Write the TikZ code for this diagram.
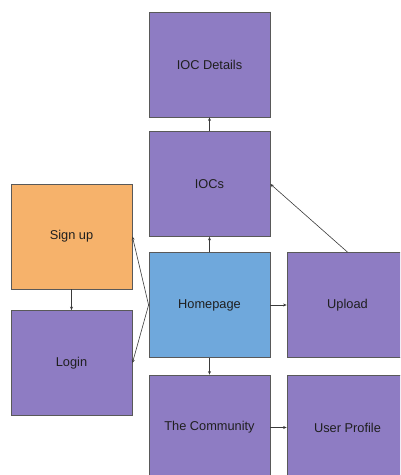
\documentclass[tikz,border=0pt]{standalone}
\usepackage{fontspec}
\setmainfont{Liberation Sans}
\usetikzlibrary{arrows.meta}
\definecolor{pagepurple}{HTML}{8E7CC3}
\definecolor{pageorange}{HTML}{F6B26B}
\definecolor{pageblue}{HTML}{6FA8DC}
\definecolor{boxline}{HTML}{595959}
\definecolor{linkline}{HTML}{3A3A3A}
\tikzset{
  page/.style={draw=boxline, line width=0.8pt, minimum width=121pt, minimum height=105pt,
    inner sep=0pt, font=\fontsize{12.8}{15}\selectfont, text=black!88},
  purplepage/.style={page, fill=pagepurple},
  orangepage/.style={page, fill=pageorange},
  bluepage/.style={page, fill=pageblue},
  link/.style={draw=linkline, line width=0.6pt, -{Stealth[length=3.5pt,width=3pt]}}
}
\begin{document}
\begin{tikzpicture}[x=1pt, y=-1pt]
  \useasboundingbox (0,0) rectangle (400,475);
  \clip (0,0) rectangle (400,475);
  % site pages
  \node[purplepage] (details)   at (209.5,64.5)  {IOC Details};
  \node[purplepage] (iocs)      at (209.5,184)   {IOCs};
  \node[bluepage]   (home)      at (209.5,305)   {Homepage};
  \node[purplepage] (upload)    at (347.5,305)   {Upload};
  \node[purplepage] (community) at (209.5,427.5) {The Community};
  \node[purplepage] (profile)   at (347.5,427.5) {User Profile};
  \node[orangepage] (signup)    at (71.5,236.5)  {Sign up};
  \node[purplepage] (login)     at (71.5,363)    {Login};
  % navigation links
  \draw[link] (home) -- (iocs);
  \draw[link] (iocs) -- (details);
  \draw[link] (home) -- (upload);
  \draw[link] (home) -- (community);
  \draw[link] (community) -- (profile);
  \draw[link] (upload.north) -- (iocs.east);
  \draw[link] (signup) -- (login);
  \draw[link] (home.west) -- (signup.east);
  \draw[link] (home.west) -- (login.east);
\end{tikzpicture}
\end{document}
